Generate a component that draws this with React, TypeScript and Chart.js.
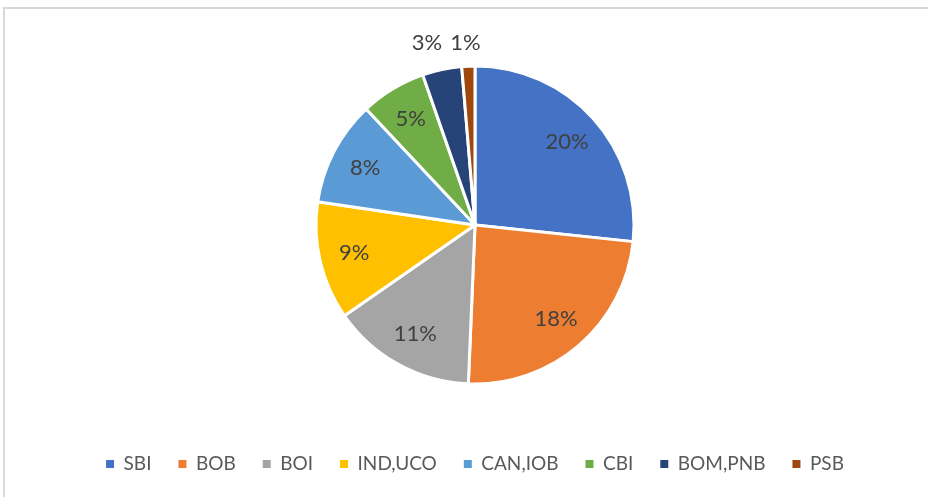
import React, { useEffect, useRef } from "react";
import { Chart, registerables } from "chart.js";

Chart.register(...registerables);

const categories = ["SBI", "BOB", "BOI", "IND,UCO", "CAN,IOB", "CBI", "BOM,PNB", "PSB"];
const values = [20, 18, 11, 9, 8, 5, 3, 1];
const labelTexts = ["20%", "18%", "11%", "9%", "8%", "5%", "3%", "1%"];
const colors = ["#4472C4", "#ED7D31", "#A5A5A5", "#FFC000", "#5B9BD5", "#70AD47", "#264478", "#9E480E"];

const FONT = "Lato, 'Open Sans', sans-serif";

const labelPlugin = {
  id: "sliceLabels",
  afterDatasetsDraw(chart: any) {
    const ctx = chart.ctx;
    const meta = chart.getDatasetMeta(0);
    ctx.save();
    ctx.font = `22px ${FONT}`;
    ctx.fillStyle = "#404040";
    ctx.textAlign = "center";
    ctx.textBaseline = "middle";
    meta.data.forEach((arc: any, i: number) => {
      const mid = (arc.startAngle + arc.endAngle) / 2;
      const r = arc.outerRadius;
      let x: number, y: number;
      if (values[i] <= 3) {
        x = arc.x + Math.cos(mid) * (r + 72);
        y = arc.y - r - 23;
      } else {
        x = arc.x + Math.cos(mid) * r * 0.78;
        y = arc.y + Math.sin(mid) * r * 0.78;
      }
      ctx.fillText(labelTexts[i], x, y);
    });
    ctx.restore();
  },
};

export default function App() {
  const ref = useRef<HTMLCanvasElement>(null);
  useEffect(() => {
    if (!ref.current) return;
    const chart = new Chart(ref.current, {
      type: "pie",
      data: {
        labels: categories,
        datasets: [
          {
            data: values,
            backgroundColor: colors,
            borderColor: "#ffffff",
            borderWidth: 3,
            radius: 159,
          } as any,
        ],
      },
      options: {
        responsive: false,
        animation: false,
        layout: { padding: { top: 22.5, bottom: 13.5, left: 22, right: 0 } },
        plugins: {
          tooltip: { enabled: false },
          legend: {
            position: "bottom",
            labels: {
              boxWidth: 8,
              boxHeight: 8,
              padding: 27,
              color: "#595959",
              font: { family: FONT, size: 19 },
              generateLabels: (chart: any) => {
                const items = Chart.overrides.pie.plugins.legend.labels.generateLabels(chart);
                return items.map((it: any) => ({ ...it, lineWidth: 0, strokeStyle: it.fillStyle }));
              },
            },
          },
        },
      },
      plugins: [labelPlugin],
    });
    return () => chart.destroy();
  }, []);
  return (
    <div style={{ position: "fixed", left: 0, top: 0, width: 928, height: 497, background: "#fff", overflow: "hidden" }}>
      <div
        style={{
          position: "absolute",
          left: 3,
          top: 7,
          width: 940,
          height: 500,
          border: "2px solid #d9d9d9",
          boxSizing: "border-box",
        }}
      />
      <canvas ref={ref} width={928} height={497} style={{ position: "absolute", left: 0, top: 0 }} />
    </div>
  );
}
